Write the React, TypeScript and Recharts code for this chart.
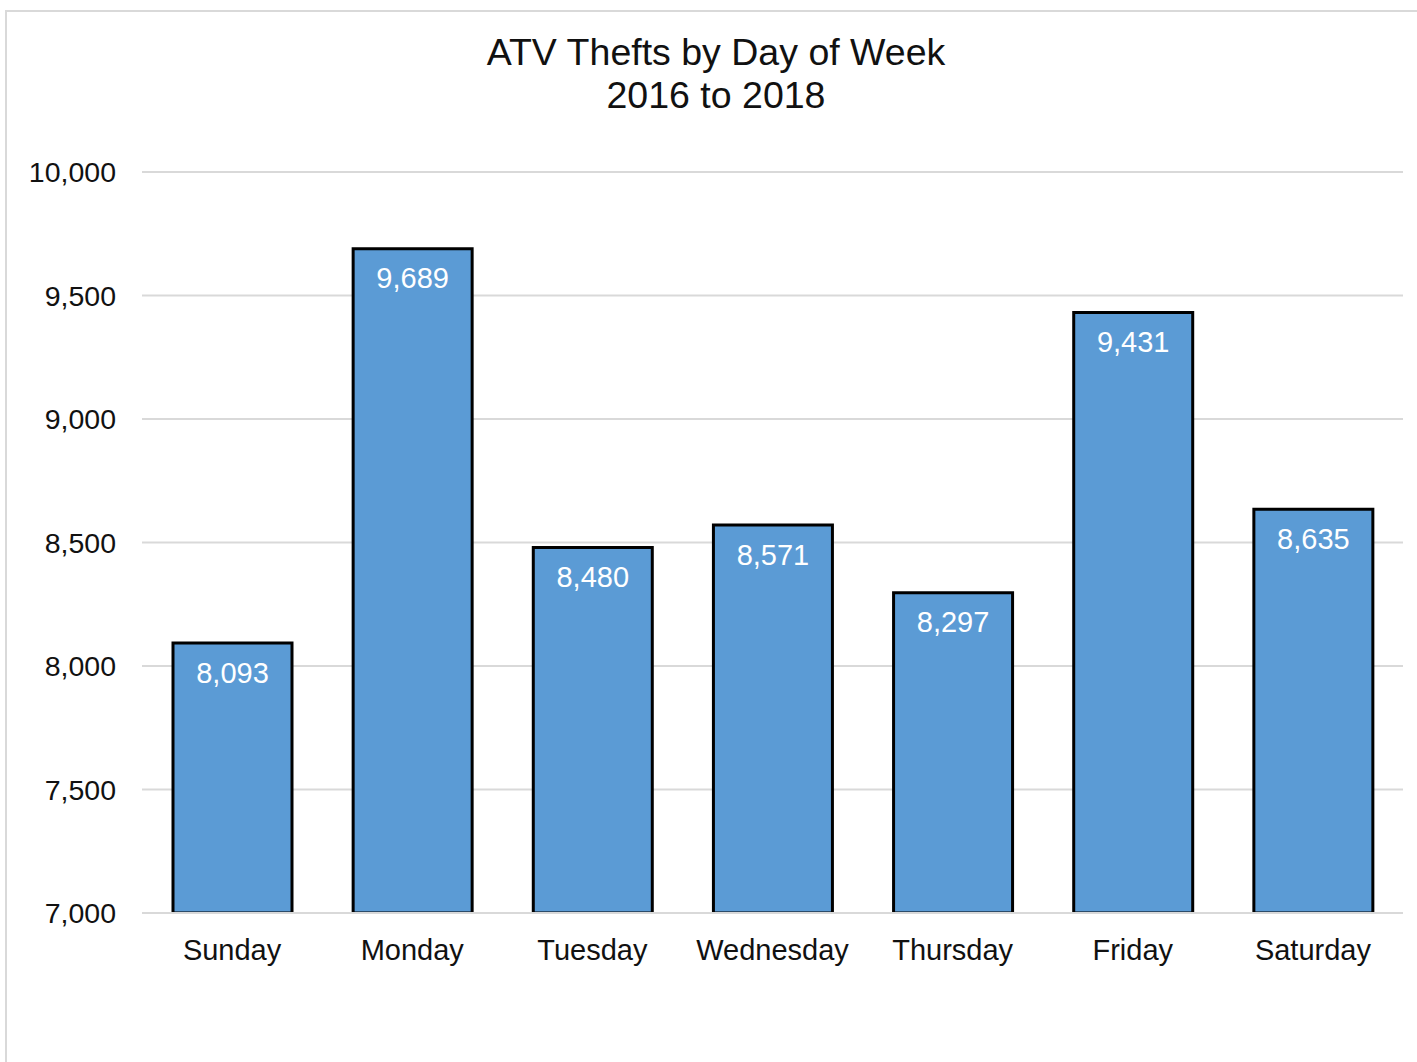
import React from 'react';
import { BarChart, Bar, XAxis, YAxis, CartesianGrid, LabelList } from 'recharts';

// ATV thefts per weekday, 2016-2018
const days = ['Sunday', 'Monday', 'Tuesday', 'Wednesday', 'Thursday', 'Friday', 'Saturday'];
const thefts = [8093, 9689, 8480, 8571, 8297, 9431, 8635];
const yTicks = [7000, 7500, 8000, 8500, 9000, 9500, 10000];

const fmt = (v: number) => v.toLocaleString('en-US');

const data = days.map((day, i) => ({ day, thefts: thefts[i] }));

const font = '"Liberation Sans", Arial, sans-serif';

const App = () => {
  return (
    <div style={{ position: 'absolute', left: 0, top: 0, width: 1417, height: 1062, overflow: 'hidden', background: '#fff', fontFamily: font }}>
      <div
        style={{
          position: 'absolute',
          left: 5,
          top: 10,
          width: 1430,
          height: 1070,
          border: '2px solid #d9d9d9',
        }}
      />
      <div
        style={{
          position: 'absolute',
          left: 0,
          top: 31,
          width: 1432,
          textAlign: 'center',
          fontSize: 37.5,
          lineHeight: '43px',
          color: '#111',
        }}
      >
        ATV Thefts by Day of Week
        <br />
        2016 to 2018
      </div>
      <div style={{ position: 'absolute', left: 0, top: 0 }}>
        <BarChart
          width={1417}
          height={1062}
          data={data}
          margin={{ top: 172, right: 14, bottom: 119, left: 12 }}
        >
          <CartesianGrid vertical={false} stroke='#d9d9d9' strokeWidth={2} />
          <XAxis
            dataKey='day'
            height={30}
            tickLine={false}
            tickSize={0}
            tickMargin={26}
            axisLine={{ stroke: '#d9d9d9', strokeWidth: 2 }}
            tick={{ fill: '#111', fontSize: 29, fontFamily: font }}
            interval={0}
          />
          <YAxis
            width={130}
            domain={[7000, 10000]}
            ticks={yTicks}
            allowDataOverflow
            tickLine={false}
            tickSize={0}
            tickMargin={26}
            axisLine={false}
            tickFormatter={fmt}
            tick={{ fill: '#111', fontSize: 28.5, fontFamily: font }}
          />
          <Bar
            dataKey='thefts'
            fill='#5b9bd5'
            stroke='#000'
            strokeWidth={3}
            barSize={119}
            isAnimationActive={false}
          >
            <LabelList
              dataKey='thefts'
              position='insideTop'
              offset={19}
              formatter={(v: any) => fmt(Number(v))}
              style={{ fill: '#fff', fontSize: 29, fontFamily: font }}
            />
          </Bar>
        </BarChart>
      </div>
    </div>
  );
};

export default App;
